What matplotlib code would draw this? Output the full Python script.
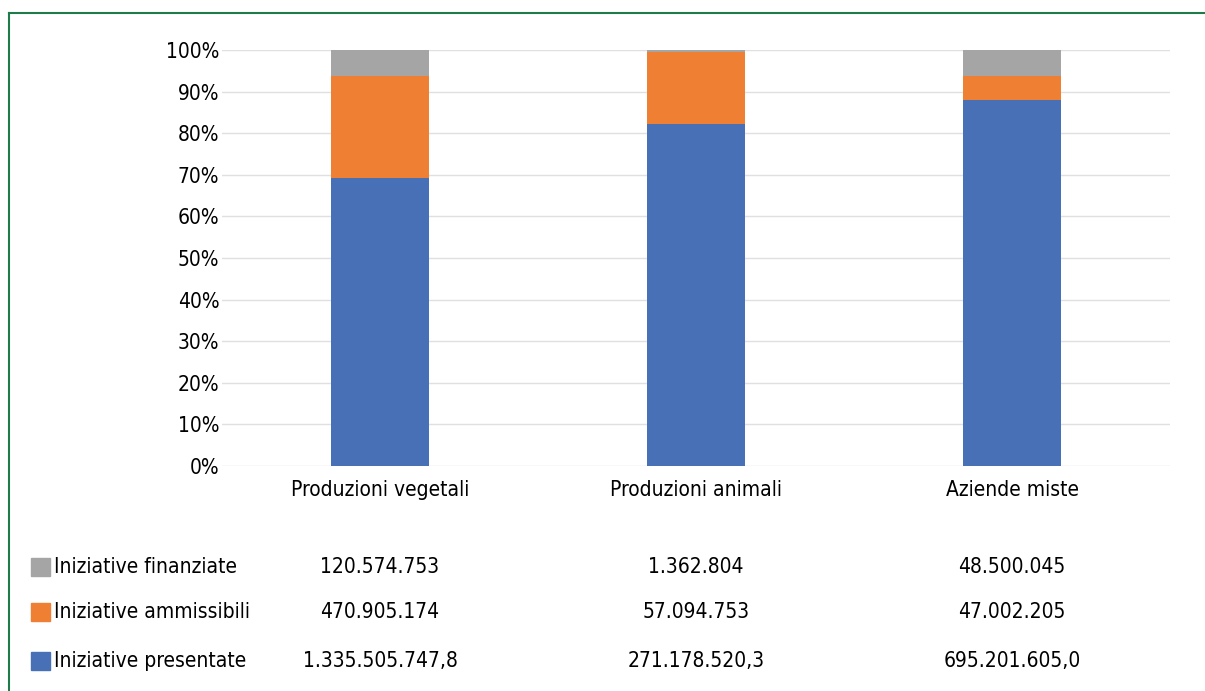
import numpy as np
import matplotlib
matplotlib.use("Agg")
from matplotlib import pyplot as plt
from matplotlib import font_manager
from matplotlib.patches import Rectangle
from matplotlib.lines import Line2D

categorie = ["Produzioni vegetali", "Produzioni animali", "Aziende miste"]
serie = ["Iniziative presentate", "Iniziative ammissibili", "Iniziative finanziate"]
presentate = [1335505747.8, 271178520.3, 695201605.0]
ammissibili = [470905174, 57094753, 47002205]
finanziate = [120574753, 1362804, 48500045]
etichette = {
    "Iniziative finanziate": ["120.574.753", "1.362.804", "48.500.045"],
    "Iniziative ammissibili": ["470.905.174", "57.094.753", "47.002.205"],
    "Iniziative presentate": ["1.335.505.747,8", "271.178.520,3", "695.201.605,0"],
}
colori = {"Iniziative presentate": "#4870b7",
          "Iniziative ammissibili": "#ee7f33",
          "Iniziative finanziate": "#a5a5a5"}

nomi = {f.name for f in font_manager.fontManager.ttflist}
if "Liberation Sans Narrow" in nomi:
    plt.rcParams["font.family"] = ["Liberation Sans Narrow", "DejaVu Sans"]
    fs = 16
else:
    plt.rcParams["font.family"] = ["DejaVu Sans"]
    plt.rcParams["font.stretch"] = "condensed"
    fs = 15

fig = plt.figure(figsize=(12.05, 6.91), dpi=100)
W, H = 1205, 691
ax = fig.add_axes([222 / W, 1 - 466 / H, (1170 - 222) / W, (466 - 50) / H])

tot = np.array(presentate) + np.array(ammissibili) + np.array(finanziate)
x = np.arange(len(categorie))
bottom = np.zeros(len(categorie))
for nome, vals in zip(serie, [presentate, ammissibili, finanziate]):
    quota = np.array(vals) / tot
    ax.bar(x, quota, 0.31, bottom=bottom, color=colori[nome], zorder=3)
    bottom += quota

ax.set_xlim(-0.5, 2.5)
ax.set_ylim(0, 1)
ax.set_yticks(np.arange(0, 1.01, 0.1))
ax.set_yticklabels([f"{int(round(v * 100))}%" for v in np.arange(0, 1.01, 0.1)], fontsize=fs)
ax.set_xticks(x)
ax.set_xticklabels(categorie, fontsize=fs)
ax.tick_params(axis="y", length=0, pad=2)
ax.tick_params(axis="x", length=0, pad=10)
ax.grid(axis="y", color="#e0e0e0", linewidth=1.0, zorder=0)
for s in ax.spines.values():
    s.set_visible(False)

# tabella dati sotto il grafico
righe_y = [567, 612, 661]
for nome, yp in zip(["Iniziative finanziate", "Iniziative ammissibili", "Iniziative presentate"], righe_y):
    yf = 1 - yp / H
    fig.patches.append(Rectangle((31 / W, yf - 9 / H), 19 / W, 18 / H,
                                 transform=fig.transFigure, color=colori[nome]))
    fig.text(54 / W, yf, nome, fontsize=fs, va="center", ha="left")
    for xi, testo in zip(x, etichette[nome]):
        xd = ax.transData.transform((xi, 0))[0]
        fig.text(xd / W, yf, testo, fontsize=fs, va="center", ha="center")

# cornice verde
fig.lines.append(Line2D([9 / W, 1], [1 - 13 / H, 1 - 13 / H], transform=fig.transFigure,
                        color="#1e7b4a", linewidth=1.5))
fig.lines.append(Line2D([9 / W, 9 / W], [0, 1 - 13 / H], transform=fig.transFigure,
                        color="#1e7b4a", linewidth=1.5))

fig.savefig("out.png", dpi=100)
